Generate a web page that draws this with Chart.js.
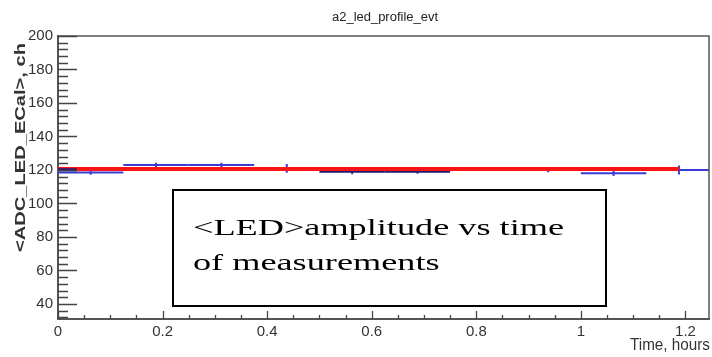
<!DOCTYPE html>
<html>
<head>
<meta charset="utf-8">
<script src="https://cdn.jsdelivr.net/npm/chart.js@4.4.0/dist/chart.umd.min.js"></script>
<style>
  html, body { margin: 0; padding: 0; background: #fff; }
  #wrap { width: 712px; height: 357px; }
</style>
</head>
<body>
<div id="wrap"><canvas id="ledChart" width="712" height="357"></canvas></div>
<script>
// profile bins, time in hours
const binLow = [0, 0.125, 0.25, 0.375, 0.5, 0.625, 0.75, 0.875, 1.0, 1.125];
const binWidth = 0.125;
const binMean = [118.5, 123, 123, 120.9, 119, 119, 120.6, 120, 118, 120];
const binErr = [1.3, 1.3, 1.3, 2.6, 1.5, 1.2, 1.2, 1.3, 1.6, 2.7];
const darkBins = [4, 5];

// constant fit (red) and the short dark piece at the start
const fitValue = 120.6;
const fitRange = [0, 1.1875];
const startValue = 120.1;
const startRange = [0, 0.036];

const xTicks = [0, 0.2, 0.4, 0.6, 0.8, 1.0, 1.2];
const yTicks = [40, 60, 80, 100, 120, 140, 160, 180, 200];

const blue = '#3b3bd4';
const navy = '#1c1c78';

// build segments, null breaks the line between bins
const barPoints = [];
const errPoints = [];
binLow.forEach((lo, i) => {
  barPoints.push({ x: lo, y: binMean[i] }, { x: lo + binWidth, y: binMean[i] }, { x: lo + binWidth, y: null });
  const c = lo + binWidth / 2;
  errPoints.push({ x: c, y: binMean[i] - binErr[i] }, { x: c, y: binMean[i] + binErr[i] }, { x: c, y: null });
});

// ROOT style ticks (inside the frame) + frame + texts
const rootFrame = {
  id: 'rootFrame',
  afterDatasetsDraw(chart) {
    const { ctx, chartArea: a, scales: { x, y } } = chart;
    ctx.save();
    ctx.strokeStyle = '#555';
    ctx.lineWidth = 1.5;
    ctx.beginPath();
    ctx.moveTo(a.left, a.top);
    ctx.lineTo(a.right, a.top);
    ctx.lineTo(a.right, a.bottom);
    ctx.stroke();

    ctx.strokeStyle = '#444';
    ctx.lineWidth = 1.3;
    ctx.beginPath();
    for (let v = 32; v <= 200; v += 4) {
      const py = Math.round(y.getPixelForValue(v)) + 0.5;
      const len = v % 20 === 0 ? 19 : 10;
      ctx.moveTo(a.left, py);
      ctx.lineTo(a.left + len, py);
    }
    for (let k = 0; k <= 24; k++) {
      const v = k * 0.05;
      const px = Math.round(x.getPixelForValue(v)) + 0.5;
      const len = k % 4 === 0 ? 8 : 4;
      ctx.moveTo(px, a.bottom);
      ctx.lineTo(px, a.bottom - len);
    }
    ctx.stroke();
    ctx.restore();
  },
  afterDraw(chart) {
    const ctx = chart.ctx;
    ctx.save();

    // title
    ctx.fillStyle = '#222';
    ctx.font = '12px "Liberation Sans"';
    ctx.textAlign = 'center';
    ctx.textBaseline = 'alphabetic';
    let w = ctx.measureText('a2_led_profile_evt').width;
    ctx.save();
    ctx.translate(385, 21);
    ctx.scale(106 / w, 1);
    ctx.fillText('a2_led_profile_evt', 0, 0);
    ctx.restore();

    // y title
    ctx.font = 'bold 14px "Liberation Sans"';
    ctx.fillStyle = '#333';
    w = ctx.measureText('<ADC_LED_ECal>, ch').width;
    ctx.save();
    ctx.translate(25, 43);
    ctx.rotate(-Math.PI / 2);
    ctx.scale(209 / w, 1);
    ctx.textAlign = 'right';
    ctx.fillText('<ADC_LED_ECal>, ch', 0, 0);
    ctx.restore();

    // x title
    ctx.font = '15px "Liberation Sans"';
    w = ctx.measureText('Time, hours').width;
    ctx.save();
    ctx.translate(710, 350);
    ctx.scale(80 / w, 1.15);
    ctx.textAlign = 'right';
    ctx.fillText('Time, hours', 0, 0);
    ctx.restore();

    // text box
    ctx.fillStyle = '#fff';
    ctx.fillRect(173, 190, 433, 116);
    ctx.strokeStyle = '#000';
    ctx.lineWidth = 2;
    ctx.strokeRect(173, 190, 433, 116);
    ctx.fillStyle = '#000';
    ctx.font = '24px "Liberation Serif"';
    ctx.textAlign = 'left';
    ctx.save();
    ctx.translate(193, 235);
    ctx.scale(1.51, 1);
    ctx.fillText('<LED>amplitude vs time', 0, 0);
    ctx.restore();
    ctx.save();
    ctx.translate(193, 270);
    ctx.scale(1.51, 1);
    ctx.fillText('of measurements', 0, 0);
    ctx.restore();

    ctx.restore();
  }
};

const ctx = document.getElementById('ledChart').getContext('2d');

new Chart(ctx, {
  type: 'line',
  data: {
    datasets: [
      {
        data: [{ x: startRange[0], y: startValue }, { x: startRange[1], y: startValue }],
        borderColor: navy,
        borderWidth: 3,
        pointRadius: 0,
      },
      {
        data: [{ x: fitRange[0], y: fitValue }, { x: fitRange[1], y: fitValue }],
        borderColor: '#ff1414',
        borderWidth: 4,
        pointRadius: 0,
      },
      {
        data: barPoints,
        borderWidth: 2,
        pointRadius: 0,
        segment: {
          borderColor: (c) => (darkBins.includes(Math.floor(c.p0DataIndex / 3)) ? navy : blue),
        },
        borderColor: blue,
      },
      {
        data: errPoints,
        borderColor: blue,
        borderWidth: 2,
        pointRadius: 0,
      },
    ],
  },
  options: {
    responsive: false,
    animation: false,
    layout: { padding: { top: 36, right: 3, left: 0, bottom: 0 } },
    plugins: { legend: { display: false }, tooltip: { enabled: false } },
    scales: {
      x: {
        type: 'linear',
        min: 0,
        max: 1.245,
        afterBuildTicks: (s) => { s.ticks = xTicks.map((v) => ({ value: v })); },
        afterFit: (s) => { s.height = 38; },
        grid: { display: false, drawTicks: false },
        border: { display: true, color: '#555', width: 2 },
        ticks: {
          padding: 4,
          maxRotation: 0,
          color: '#333',
          font: { family: 'Liberation Sans', size: 15 },
          callback: (v) => String(Math.round(v * 10) / 10),
        },
      },
      y: {
        min: 31,
        max: 200,
        afterBuildTicks: (s) => { s.ticks = yTicks.map((v) => ({ value: v })); },
        afterFit: (s) => { s.width = 58; },
        grid: { display: false, drawTicks: false },
        border: { display: true, color: '#555', width: 2 },
        ticks: {
          padding: 5,
          color: '#333',
          font: { family: 'Liberation Sans', size: 15 },
        },
      },
    },
  },
  plugins: [rootFrame],
});
</script>
</body>
</html>
